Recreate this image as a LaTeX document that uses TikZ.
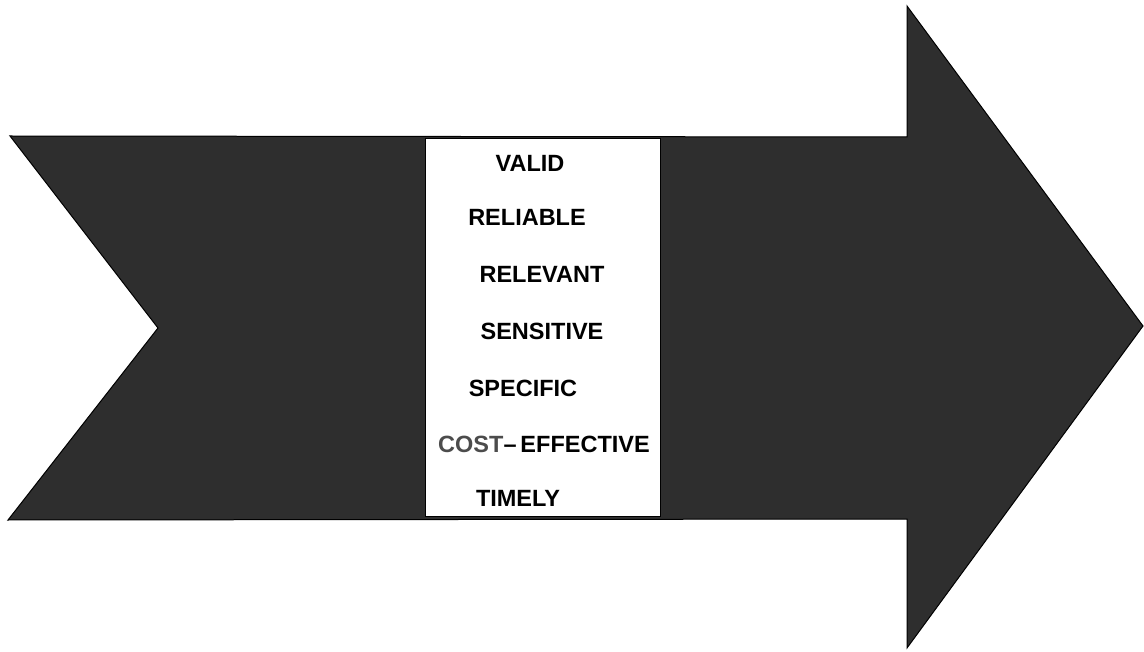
\documentclass[tikz,border=0pt]{standalone}
\usepackage{fontspec}
\setmainfont{Liberation Sans}

\begin{document}
\begin{tikzpicture}[x=1pt,y=-1pt]

\tikzset{
  quality word/.style={
    font=\fontsize{23.5}{24}\selectfont\bfseries,
    inner sep=0pt,
    anchor=base,
  }
}

\useasboundingbox (0,0) rectangle (1144,652);

% Big arrow with notched tail
\fill[black!82, draw=black, line width=1pt]
  (10,136) -- (907,137) -- (907,6) -- (1143,326) -- (907,648)
  -- (907,519) -- (8,520) -- (158,328) -- cycle;

% White panel in the middle
\node[draw=black, fill=white, line width=1pt, minimum width=235pt,
  minimum height=377pt, inner sep=0pt] (panel) at (542.5,327.5) {};

% Words, top to bottom
\node[quality word] (valid)     at (530,172) {VALID};
\node[quality word] (reliable)  at (527,226) {RELIABLE};
\node[quality word] (relevant)  at (542,283) {RELEVANT};
\node[quality word] (sensitive) at (542,340) {SENSITIVE};
\node[quality word] (specific)  at (523,397) {SPECIFIC};
\node[quality word] (costeff)   at (544,452) {\textcolor{black!70}{COST}--\,EFFECTIVE};
\node[quality word] (timely)    at (518,506) {TIMELY};

\end{tikzpicture}
\end{document}
